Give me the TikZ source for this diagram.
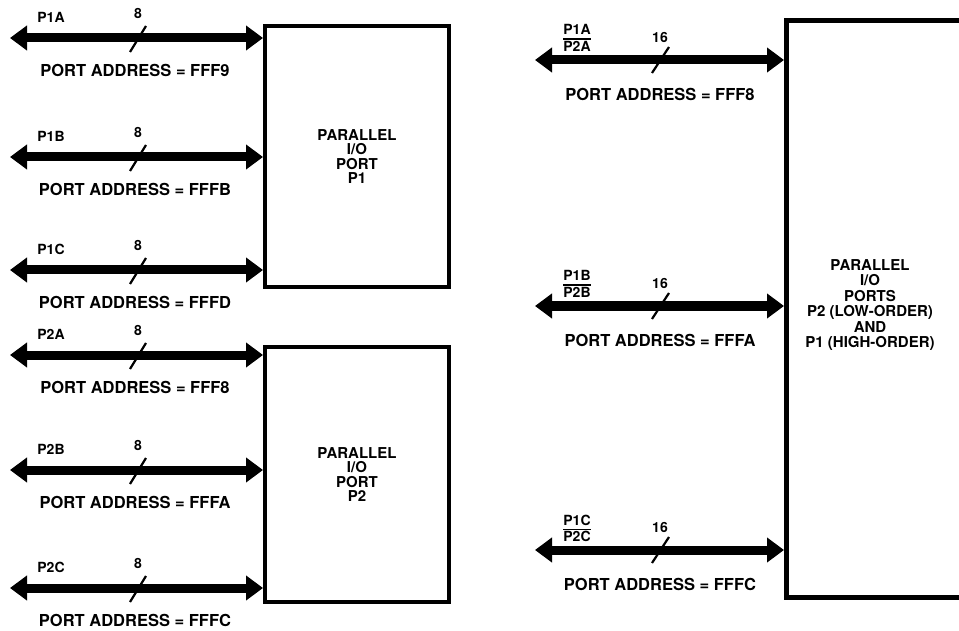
\documentclass[tikz,border=0pt]{standalone}
\usepackage{fontspec}
\setmainfont{TeX Gyre Heros}
\usetikzlibrary{arrows.meta}
\tikzset{
  bus/.style={line width=9pt, {Triangle[length=17pt,width=24pt]}-{Triangle[length=17pt,width=24pt]}},
  portbox/.style={draw, line width=4pt, inner sep=0pt},
  addr/.style={font=\fontsize{16.5}{18}\selectfont\bfseries, inner sep=0pt},
  lab/.style={font=\fontsize{14}{15}\selectfont\bfseries, inner sep=0pt},
  fraclab/.style={font=\fontsize{14}{15}\selectfont\bfseries, inner sep=0pt},
  boxtext/.style={font=\fontsize{15}{14.5}\selectfont\bfseries, align=center, inner sep=0pt},
  bigboxtext/.style={font=\fontsize{15}{15.5}\selectfont\bfseries, align=center, inner sep=0pt},
  tick/.style={line width=2.2pt}
}
\newcommand{\stackpair}[2]{{\setlength{\arrayrulewidth}{1.3pt}\renewcommand{\arraystretch}{0.78}\begin{tabular}{@{}c@{}}#1\\\hline \rule{0pt}{12pt}#2\end{tabular}}}
\begin{document}
\begin{tikzpicture}[x=1pt,y=-1pt]
\useasboundingbox (0,0) rectangle (959,631);
% boxes
\node[portbox, minimum width=184pt, minimum height=261pt, anchor=north west] (P1) at (263,24) {};
\node[portbox, minimum width=184pt, minimum height=255pt, anchor=north west] (P2) at (263,345) {};
\node[portbox, line width=5pt, minimum width=190pt, minimum height=577pt, anchor=north west] (P3) at (784,18) {};
\node[boxtext] (t1) at (P1.center) {PARALLEL\\I/O\\PORT\\P1};
\node[boxtext] (t2) at (P2.center) {PARALLEL\\I/O\\PORT\\P2};
\node[bigboxtext] (t3) at (870,305) {PARALLEL\\I/O\\PORTS\\P2 (LOW-ORDER)\\AND\\P1 (HIGH-ORDER)};
% left buses
\foreach \n/\y/\lab/\adr/\bx in {p1a/38/P1A/FFF9/P1, p1b/157/P1B/FFFB/P1, p1c/270/P1C/FFFD/P1,
                                  p2a/355/P2A/FFF8/P2, p2b/470/P2B/FFFA/P2, p2c/588/P2C/FFFC/P2}{
  \coordinate (\n) at (10,\y);
  \draw[bus] (\n) -- (\n -| \bx.west);
  \draw[tick] ([shift={(120,14)}]\n) -- ([shift={(136,-12)}]\n);
  \node[lab] (\n l) at ([shift={(41,-21)}]\n) {\lab};
  \node[lab] (\n w) at ([shift={(128,-25)}]\n) {8};
  \node[addr] (\n d) at ([shift={(125,32)}]\n) {PORT ADDRESS = \adr};
}
% right buses
\foreach \n/\y/\la/\lb/\adr in {q1/60/P1A/P2A/FFF8, q2/306/P1B/P2B/FFFA, q3/550/P1C/P2C/FFFC}{
  \coordinate (\n) at (535,\y);
  \draw[bus] (\n) -- (\n -| P3.west);
  \draw[tick] ([shift={(117,13)}]\n) -- ([shift={(134,-13)}]\n);
  \node[fraclab] (\n l) at ([shift={(42,-20)}]\n) {\stackpair{\la}{\lb}};
  \node[lab] (\n w) at ([shift={(125,-23)}]\n) {16};
  \node[addr] (\n d) at ([shift={(125,34)}]\n) {PORT ADDRESS = \adr};
}
\end{tikzpicture}
\end{document}
